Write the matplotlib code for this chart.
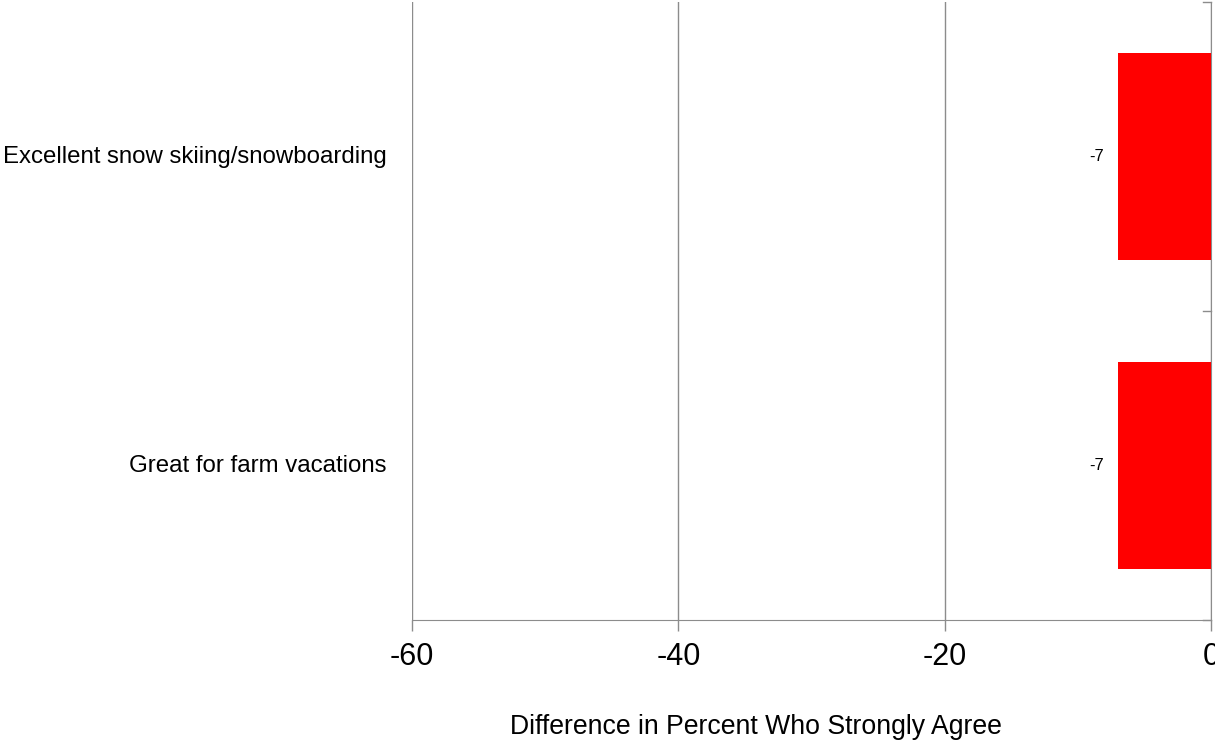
import matplotlib
matplotlib.use("Agg")
import matplotlib.pyplot as plt

categories = ["Excellent snow skiing/snowboarding", "Great for farm vacations"]
values = [-7, -7]
x_ticks = [-60, -40, -20, 0]

plt.rcParams["font.family"] = ["Liberation Sans", "DejaVu Sans"]

fig = plt.figure(figsize=(12.15, 7.42), dpi=100)
W, H = 1215, 742
left, right, top, bottom = 412, 1211, 2, 620
ax = fig.add_axes([left / W, 1 - bottom / H, (right - left) / W, (bottom - top) / H])

ypos = [0, 1]
bars = ax.barh(ypos, values, height=0.67, color="#ff0000", zorder=3)

ax.set_xlim(-60, 0)
ax.set_ylim(1.5, -0.5)
ax.set_xticks(x_ticks)
ax.set_xticklabels([str(t) for t in x_ticks], fontsize=22)
ax.tick_params(axis="x", length=8, width=1, color="#8c8c8c", pad=8)
ax.grid(axis="x", color="#8c8c8c", linewidth=1, zorder=0)

# category labels placed to the left of the plot area
ax.set_yticks([])
for y, name in zip(ypos, categories):
    ax.text(-61.9, y, name, ha="right", va="center", fontsize=17.3)

# category dividers on the zero line
for yb in [-0.5, 0.5, 1.5]:
    ax.plot([-0.6, 0], [yb, yb], color="#8c8c8c", linewidth=1, clip_on=False, zorder=4)

for s in ["top", "left"]:
    ax.spines[s].set_visible(False)
ax.spines["right"].set_color("#8c8c8c")
ax.spines["bottom"].set_color("#8c8c8c")

for y, v in zip(ypos, values):
    ax.text(v - 1.6, y, str(v), ha="center", va="center", fontsize=12)

ax.set_xlabel("Difference in Percent Who Strongly Agree", fontsize=19.2, labelpad=30)
ax.xaxis.label.set_x(0.43)

fig.savefig("out.png", dpi=100)
